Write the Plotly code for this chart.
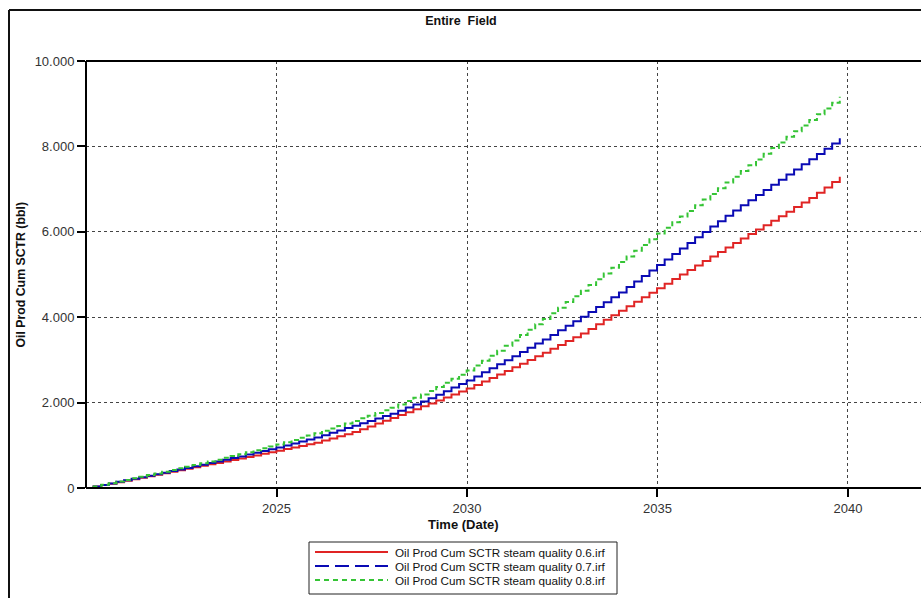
import pandas as pd
import plotly.graph_objects as go

# ---- data ----
series_names = [
    "Oil Prod Cum SCTR steam quality 0.6.irf",
    "Oil Prod Cum SCTR steam quality 0.7.irf",
    "Oil Prod Cum SCTR steam quality 0.8.irf",
]

start_date = "2020-01-01"
n_steps = 100          # report times every 73 days
step_freq = "73D"

oil_q06 = [
    0, 34, 68, 102, 136, 170, 205, 240, 275, 310,
    345, 380, 415, 450, 485, 520, 554, 588, 622, 656,
    690, 727, 764, 801, 838, 875, 912, 949, 986, 1023,
    1060, 1110, 1160, 1210, 1260, 1310, 1376, 1442, 1508, 1574,
    1640, 1708, 1776, 1844, 1912, 1980, 2050, 2120, 2190, 2260,
    2330, 2412, 2494, 2576, 2658, 2740, 2826, 2912, 2998, 3084,
    3170, 3260, 3350, 3440, 3530, 3620, 3726, 3832, 3938, 4044,
    4150, 4256, 4362, 4468, 4574, 4680, 4786, 4892, 4998, 5104,
    5210, 5316, 5422, 5528, 5634, 5740, 5844, 5948, 6052, 6156,
    6260, 6366, 6472, 6578, 6684, 6790, 6915, 7040, 7165, 7290,
]
oil_q07 = [
    0, 36, 72, 108, 144, 180, 216, 252, 288, 324,
    360, 397, 434, 471, 508, 545, 584, 623, 662, 701,
    740, 782, 824, 866, 908, 950, 996, 1042, 1088, 1134,
    1180, 1236, 1292, 1348, 1404, 1460, 1516, 1572, 1628, 1684,
    1740, 1812, 1884, 1956, 2028, 2100, 2184, 2268, 2352, 2436,
    2520, 2614, 2708, 2802, 2896, 2990, 3088, 3186, 3284, 3382,
    3480, 3586, 3692, 3798, 3904, 4010, 4124, 4238, 4352, 4466,
    4580, 4708, 4836, 4964, 5092, 5220, 5350, 5480, 5610, 5740,
    5870, 5996, 6122, 6248, 6374, 6500, 6620, 6740, 6860, 6980,
    7100, 7220, 7340, 7460, 7580, 7700, 7823, 7945, 8068, 8190,
]
oil_q08 = [
    0, 38, 76, 114, 152, 190, 228, 266, 304, 342,
    380, 420, 460, 500, 540, 580, 622, 664, 706, 748,
    790, 836, 882, 928, 974, 1020, 1072, 1124, 1176, 1228,
    1280, 1338, 1396, 1454, 1512, 1570, 1632, 1694, 1756, 1818,
    1880, 1958, 2036, 2114, 2192, 2270, 2366, 2462, 2558, 2654,
    2750, 2866, 2982, 3098, 3214, 3330, 3456, 3582, 3708, 3834,
    3960, 4092, 4224, 4356, 4488, 4620, 4754, 4888, 5022, 5156,
    5290, 5424, 5558, 5692, 5826, 5960, 6092, 6224, 6356, 6488,
    6620, 6754, 6888, 7022, 7156, 7290, 7424, 7558, 7692, 7826,
    7960, 8092, 8224, 8356, 8488, 8620, 8755, 8890, 9025, 9160,
]

x_tick_vals = ["2025-01-01", "2030-01-01", "2035-01-01", "2040-01-01"]
x_tick_text = ["2025", "2030", "2035", "2040"]
y_tick_vals = [0, 2000, 4000, 6000, 8000, 10000]

# ---- styles ----
colors = ["#E02424", "#0A0AB4", "#35C435"]
plot_dash = ["solid", "solid", "5px,3px"]
legend_dash = ["solid", "14px,6px", "5px,4px"]
FONT = "Liberation Sans, Arial, sans-serif"

dates = pd.date_range(start_date, periods=n_steps, freq=step_freq)
values = [oil_q06, oil_q07, oil_q08]

fig = go.Figure()
for name, vals, col, dsh in zip(series_names, values, colors, plot_dash):
    fig.add_trace(go.Scatter(
        x=dates, y=vals, mode="lines", line_shape="hv", name=name,
        line=dict(color=col, width=2, dash=dsh), showlegend=False,
    ))

# the plot area runs past the right edge of the 921 px window, as in the reference
W, H = 935, 598
L, R, T, B = 86, 0, 61, 110
pw = W - L - R
ph = H - T - B

def px_x(px):
    return (px - L) / pw

def px_y(py):
    return (H - B - py) / ph

fig.update_layout(
    width=W, height=H,
    margin=dict(l=L, r=R, t=T, b=B, pad=0, autoexpand=False),
    paper_bgcolor="white", plot_bgcolor="white",
    separators=",.",
    hovermode=False, dragmode=False,
    font=dict(family=FONT, size=13, color="#333333"),
    title=dict(text="<b>Entire  Field</b>", x=461 / W, xref="container",
               y=1 - 21 / H, yanchor="middle", xanchor="center",
               font=dict(family=FONT, size=12.5, color="#111111")),
    xaxis=dict(
        type="date", range=["2020-01-01", "2042-04-15"],
        tickvals=x_tick_vals, ticktext=x_tick_text,
        showline=False,
        ticks="outside", ticklen=8, tickwidth=2, tickcolor="black",
        showgrid=True, gridcolor="#444444", gridwidth=1, griddash="3px,3px",
        zeroline=False, tickfont=dict(size=13, color="#333333"),
        fixedrange=True,
    ),
    yaxis=dict(
        range=[0, 10000], tickvals=y_tick_vals, tickformat=",.0f",
        showline=False,
        ticks="outside", ticklen=8, tickwidth=2, tickcolor="black",
        showgrid=True, gridcolor="#444444", gridwidth=1, griddash="3px,3px",
        zeroline=False, tickfont=dict(size=13, color="#333333"),
        fixedrange=True,
    ),
    showlegend=False,
)

# axis frame lines: bottom, top, left
fig.add_shape(type="line", xref="paper", yref="paper", x0=0, x1=1, y0=0, y1=0,
              line=dict(color="black", width=2))
fig.add_shape(type="line", xref="paper", yref="paper", x0=0, x1=1, y0=1, y1=1,
              line=dict(color="black", width=2))
fig.add_shape(type="line", xref="paper", yref="paper", x0=0, x1=0, y0=0, y1=1,
              line=dict(color="black", width=2))

fig.add_annotation(text="<b>Oil Prod Cum SCTR (bbl)</b>", textangle=-90,
                   xref="paper", yref="paper", x=px_x(20), y=0.5,
                   xanchor="center", yanchor="middle",
                   showarrow=False, font=dict(family=FONT, size=12.3, color="#111111"))
fig.add_annotation(text="<b>Time (Date)</b>",
                   xref="paper", yref="paper", x=px_x(463), y=px_y(524),
                   xanchor="center", yanchor="middle",
                   showarrow=False, font=dict(family=FONT, size=13, color="#111111"))

# outer frame (left and top edges)
fig.add_shape(type="line", xref="paper", yref="paper",
              x0=px_x(9), x1=px_x(9), y0=px_y(10), y1=px_y(600),
              line=dict(color="#111111", width=2))
fig.add_shape(type="line", xref="paper", yref="paper",
              x0=px_x(9), x1=1, y0=px_y(10), y1=px_y(10),
              line=dict(color="#111111", width=2))

# legend box drawn in pixel-matched layout
fig.add_shape(type="rect", xref="paper", yref="paper",
              x0=px_x(309), x1=px_x(617), y0=px_y(542), y1=px_y(594),
              line=dict(color="#222222", width=1), fillcolor="white")
row_y = [552, 566, 580]
for name, col, dsh, ry in zip(series_names, colors, legend_dash, row_y):
    fig.add_shape(type="line", xref="paper", yref="paper",
                  x0=px_x(315), x1=px_x(388), y0=px_y(ry), y1=px_y(ry),
                  line=dict(color=col, width=2, dash=dsh))
    fig.add_annotation(text=name, xref="paper", yref="paper",
                       x=px_x(393), y=px_y(ry), xanchor="left", yanchor="middle",
                       showarrow=False,
                       font=dict(family=FONT, size=11.7, color="#111111"))

fig.write_html(
    "out.html",
    config={"displayModeBar": False, "staticPlot": True},
    post_script="document.body.style.margin='0';document.body.style.overflow='hidden';",
)
